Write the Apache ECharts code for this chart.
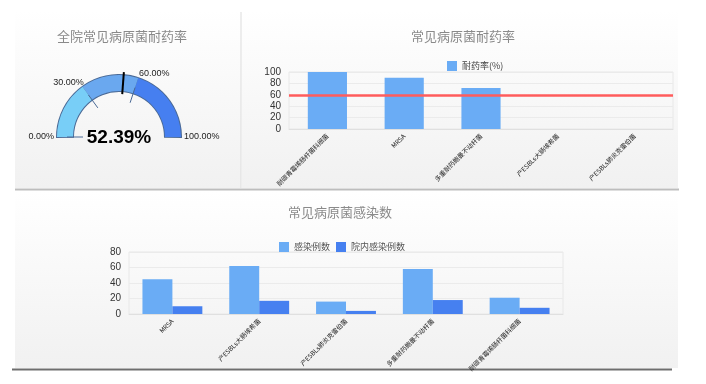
<!DOCTYPE html>
<html><head><meta charset="utf-8">
<script src="https://cdn.jsdelivr.net/npm/echarts@6/dist/echarts.min.js"></script>
<style>html,body{margin:0;padding:0;background:#fff}#c{width:706px;height:384px}</style>
</head><body><div id="c"></div>
<script>
// ---- data ----
var gaugeTitle = '全院常见病原菌耐药率';
var gaugeValue = 52.39;
var gaugeBands = [30, 60, 100];
var gaugeTickLabels = [0, 30, 60, 100];

var resistTitle = '常见病原菌耐药率';
var resistSeriesName = '耐药率(%)';
var resistCats = ['耐碳青霉烯肠杆菌科细菌', 'MRSA', '多重耐药鲍曼不动杆菌', '产ESBLs大肠埃希菌', '产ESBLs肺炎克雷伯菌'];
var resistVals = [100, 90, 72, 0, 0];
var resistThreshold = 60;
var resistYTicks = [0, 20, 40, 60, 80, 100];

var infectTitle = '常见病原菌感染数';
var infectNames = ['感染例数', '院内感染例数'];
var infectCats = ['MRSA', '产ESBLs大肠埃希菌', '产ESBLs肺炎克雷伯菌', '多重耐药鲍曼不动杆菌', '耐碳青霉烯肠杆菌科细菌'];
var infectTotal = [45, 62, 16, 58, 21];
var infectHosp = [10, 17, 4, 18, 8];
var infectYTicks = [0, 20, 40, 60, 80];

// ---- styling ----
var FONT = '"Liberation Sans", Arial, "Noto Sans CJK SC", sans-serif';
var CJK = '"Noto Sans CJK SC", "Liberation Sans", sans-serif';
var C1 = '#6aacf5', C2 = '#4680f0';
var gcx = 119, gcy = 137, gr = 62;

function bgRect(x, y, w, h) {
  return { type: 'rect', z: -10, silent: true, shape: { x: x, y: y, width: w, height: h },
    style: { fill: new echarts.graphic.LinearGradient(0, 0, 0, 1, [{ offset: 0, color: '#ffffff' }, { offset: 1, color: '#f1f1f1' }]) } };
}
var graphics = [
  bgRect(15, 10, 226, 178), bgRect(242, 10, 436, 178), bgRect(15, 191, 663, 177),
  { type: 'line', z: -5, silent: true, shape: { x1: 241, y1: 12, x2: 241, y2: 188 }, style: { stroke: '#dcdcdc', lineWidth: 1 } },
  { type: 'line', z: -5, silent: true, shape: { x1: 15, y1: 189.5, x2: 679, y2: 189.5 }, style: { stroke: '#bdbdbd', lineWidth: 2 } },
  { type: 'line', z: -5, silent: true, shape: { x1: 12, y1: 369.5, x2: 672, y2: 369.5 }, style: { stroke: '#6e6e6e', lineWidth: 2 } }
];
// gauge tick labels placed just outside the arc
gaugeTickLabels.forEach(function (v) {
  var a = Math.PI * (1 - v / 100);
  var cs = Math.cos(a), sn = Math.sin(a);
  var rr = gr + 3;
  graphics.push({ type: 'text', silent: true, x: gcx + rr * cs + (cs < -0.01 && sn > 0.1 ? 3 : 0), y: gcy - rr * sn + (sn > 0.1 ? 3 : 0),
    style: { text: v.toFixed(2) + '%', font: '9px ' + FONT, fill: '#222',
      textAlign: cs < -0.01 ? 'right' : 'left', textVerticalAlign: sn > 0.1 ? 'bottom' : 'middle' } });
});

var gaugeColors = ['#78cef7', '#6aa8ef', '#467ff0'];
var axisLabelStyle = { rotate: 45, interval: 0, fontSize: 6.4, color: '#222', fontFamily: CJK, margin: 6 };
var option = {
  animation: false,
  backgroundColor: '#fff',
  graphic: graphics,
  title: [
    { text: gaugeTitle, left: 117, top: 25, textAlign: 'center', textStyle: { fontSize: 13, fontWeight: 'normal', color: '#8a8a8a', fontFamily: CJK } },
    { text: resistTitle, left: 458, top: 25, textAlign: 'center', textStyle: { fontSize: 13, fontWeight: 'normal', color: '#8a8a8a', fontFamily: CJK } },
    { text: infectTitle, left: 335, top: 201, textAlign: 'center', textStyle: { fontSize: 13, fontWeight: 'normal', color: '#8a8a8a', fontFamily: CJK } }
  ],
  legend: [
    { data: [resistSeriesName], left: 442, top: 56, itemWidth: 10, itemHeight: 10, itemGap: 6, icon: 'rect',
      textStyle: { fontSize: 9, color: '#444', fontFamily: CJK } },
    { data: infectNames, left: 274, top: 237, itemWidth: 10, itemHeight: 10, itemGap: 6, icon: 'rect',
      textStyle: { fontSize: 9, color: '#555', fontFamily: CJK } }
  ],
  grid: [
    { left: 289, right: 33, top: 72, bottom: 255, show: true, borderColor: '#e8e8e8', borderWidth: 1, backgroundColor: 'transparent' },
    { left: 129, right: 143, top: 252, bottom: 70, show: true, borderColor: '#e8e8e8', borderWidth: 1, backgroundColor: 'transparent' }
  ],
  xAxis: [
    { type: 'category', gridIndex: 0, data: resistCats, axisTick: { show: false },
      axisLine: { lineStyle: { color: '#e0e0e0' } }, axisLabel: axisLabelStyle },
    { type: 'category', gridIndex: 1, data: infectCats, axisTick: { show: false },
      axisLine: { lineStyle: { color: '#e0e0e0' } }, axisLabel: axisLabelStyle }
  ],
  yAxis: [
    { type: 'value', gridIndex: 0, min: resistYTicks[0], max: resistYTicks[resistYTicks.length - 1], interval: resistYTicks[1] - resistYTicks[0],
      axisLine: { show: false }, axisTick: { show: false },
      splitLine: { lineStyle: { color: '#ebebeb' } },
      axisLabel: { fontSize: 10, color: '#333', fontFamily: FONT, margin: 8 } },
    { type: 'value', gridIndex: 1, min: infectYTicks[0], max: infectYTicks[infectYTicks.length - 1], interval: infectYTicks[1] - infectYTicks[0],
      axisLine: { show: false }, axisTick: { show: false },
      splitLine: { lineStyle: { color: '#ebebeb' } },
      axisLabel: { fontSize: 10, color: '#333', fontFamily: FONT, margin: 8 } }
  ],
  series: [
    // outline ring
    { type: 'gauge', center: [gcx, gcy], radius: gr + 1, startAngle: 181, endAngle: -1, min: 0, max: 100,
      axisLine: { lineStyle: { width: 18, color: [[1, '#4b6a96']] } },
      splitLine: { show: false }, axisTick: { show: false }, axisLabel: { show: false },
      pointer: { show: false }, anchor: { show: false }, title: { show: false }, detail: { show: false }, data: [], silent: true },
    // coloured bands + pointer + value
    { type: 'gauge', center: [gcx, gcy], radius: gr, startAngle: 180, endAngle: 0, min: 0, max: 100,
      axisLine: { lineStyle: { width: 16, color: gaugeBands.map(function (b, i) { return [b / 100, gaugeColors[i]]; }) } },
      splitLine: { show: false }, axisTick: { show: false }, axisLabel: { show: false },
      pointer: { show: true, icon: 'rect', width: 2, length: 22, offsetCenter: [0, -43], itemStyle: { color: '#000' } },
      anchor: { show: false }, title: { show: false },
      detail: { show: true, offsetCenter: [0, 1], valueAnimation: false, fontSize: 19, fontWeight: 'bold', color: '#000', fontFamily: FONT,
        formatter: function (v) { return v.toFixed(2) + '%'; } },
      data: [{ value: gaugeValue }] },
    // band separators at 30 and 60
    { type: 'gauge', center: [gcx, gcy], radius: gr, startAngle: 180, endAngle: 180 - 180 * gaugeBands[1] / 100, min: 0, max: gaugeBands[1], splitNumber: 2,
      axisLine: { show: false }, axisTick: { show: false }, axisLabel: { show: false },
      splitLine: { show: true, distance: 0, length: 16, lineStyle: { color: '#4b6a96', width: 1 } },
      pointer: { show: false }, anchor: { show: false }, title: { show: false }, detail: { show: false }, data: [], silent: true },
    { type: 'bar', name: resistSeriesName, xAxisIndex: 0, yAxisIndex: 0, data: resistVals, barWidth: '51%',
      itemStyle: { color: C1 },
      markLine: { silent: true, symbol: 'none', label: { show: false }, lineStyle: { color: '#ff5c5c', width: 2.5, type: 'solid' },
        data: [{ yAxis: resistThreshold }] } },
    { type: 'bar', name: infectNames[0], xAxisIndex: 1, yAxisIndex: 1, data: infectTotal, barGap: '0%', barCategoryGap: '31%',
      itemStyle: { color: C1 } },
    { type: 'bar', name: infectNames[1], xAxisIndex: 1, yAxisIndex: 1, data: infectHosp, barGap: '0%', barCategoryGap: '31%',
      itemStyle: { color: C2 } }
  ]
};
var chart = echarts.init(document.getElementById('c'), null, { renderer: 'canvas' });
chart.setOption(option);
</script>
</body></html>
